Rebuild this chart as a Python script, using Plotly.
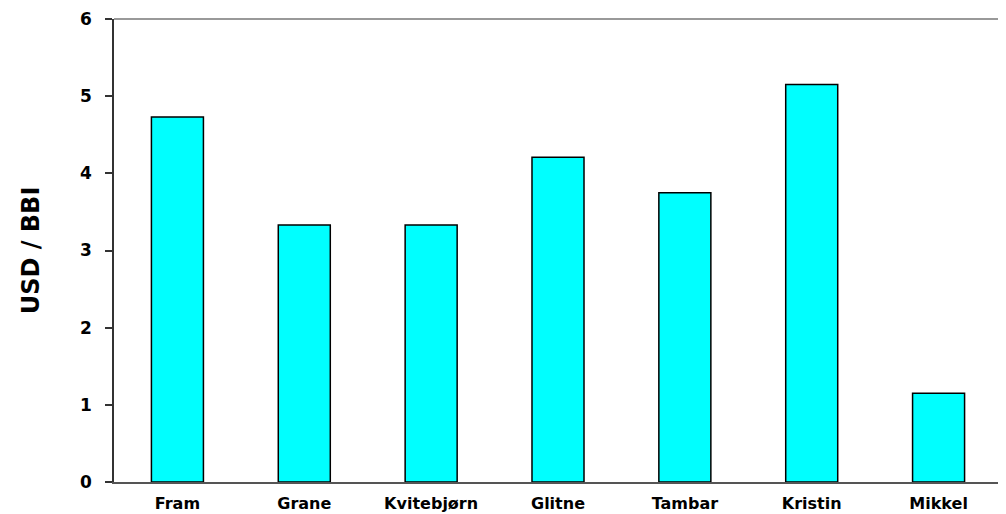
import plotly.graph_objects as go

categories = ["Fram", "Grane", "Kvitebjørn", "Glitne", "Tambar", "Kristin", "Mikkel"]
values = [4.73, 3.33, 3.33, 4.21, 3.75, 5.15, 1.15]
y_ticks = [0, 1, 2, 3, 4, 5, 6]

fig = go.Figure()
fig.add_trace(go.Bar(
    x=categories, y=values, width=0.41,
    marker=dict(color="#00FFFF", line=dict(color="#000000", width=1.5)),
))

fig.update_layout(
    width=998, height=506,
    margin=dict(l=106, r=4, t=11, b=32),
    paper_bgcolor="white", plot_bgcolor="white",
    showlegend=False,
    font=dict(family="DejaVu Sans", color="black"),
    xaxis=dict(
        automargin=False,
        showline=True, linecolor="#555555", linewidth=2,
        ticks="", showgrid=False,
        ticklabelstandoff=6,
        tickfont=dict(size=16, family="DejaVu Sans", weight="bold"),
    ),
    yaxis=dict(
        automargin=False,
        range=[0, 6], tickvals=y_ticks, showgrid=False, zeroline=False,
        showline=True, linecolor="#333333", linewidth=1.5,
        ticks="outside", ticklen=7, tickcolor="#333333", tickwidth=1.5,
        ticklabelstandoff=10,
        tickfont=dict(size=17, family="DejaVu Sans", weight="bold"),
        title=dict(text="USD / BBI", font=dict(size=24, family="DejaVu Sans", weight="bold"), standoff=34),
    ),
    shapes=[
        dict(type="line", xref="paper", yref="paper", x0=0, x1=1, y0=1, y1=1,
             line=dict(color="#999999", width=2)),
        dict(type="line", xref="paper", yref="paper", x0=1, x1=1, y0=0, y1=1,
             line=dict(color="#999999", width=3)),
    ],
)

fig.write_html("out.html")
